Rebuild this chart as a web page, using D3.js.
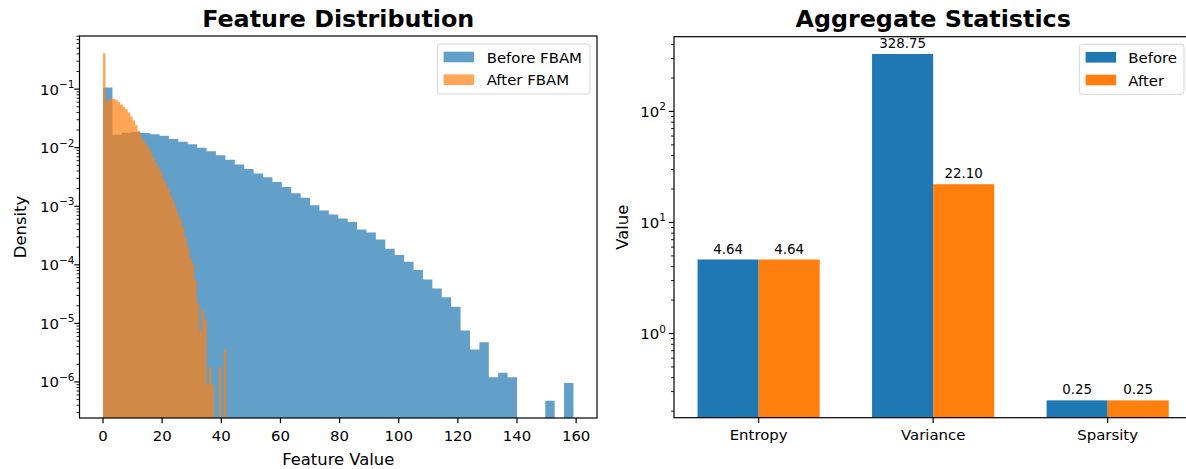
<!DOCTYPE html>
<html>
<head>
<meta charset="utf-8">
<script src="https://cdn.jsdelivr.net/npm/d3@7"></script>
<style>
  body { margin: 0; background: #fff; }
  text { font-family: "DejaVu Sans", sans-serif; fill: #000; }
</style>
</head>
<body>
<svg id="chart" width="1186" height="469"></svg>
<script>
// ---- histogram data (density per bin, 50 bins each) ----
var beforeRange = [0, 159.1];
var afterRange = [0, 41.7];
var beforeDensity = [
  0.107, 0.0166, 0.018, 0.0186, 0.0178, 0.017, 0.016, 0.0141, 0.0126, 0.0115,
  0.0100, 0.0087, 0.0074, 0.0062, 0.00515, 0.00433, 0.00361, 0.00313, 0.0026, 0.00213,
  0.00166, 0.0014, 0.00104, 0.00085, 0.00072, 0.00062, 0.00054, 0.0004, 0.000355, 0.00027,
  0.000188, 0.000147, 0.000113, 8.2e-5, 5.6e-5, 3.94e-5, 2.8e-5, 1.92e-5, 7.55e-6, 3.57e-6,
  4.77e-6, 1.2e-6, 1.43e-6, 1.2e-6, 0, 0, 0, 4.8e-7, 0, 9.6e-7
];
var afterDensity = [
  0.408, 0.063, 0.065, 0.069, 0.068, 0.065, 0.060, 0.0547, 0.050, 0.0455,
  0.040, 0.034, 0.029, 0.0242, 0.0195, 0.0157, 0.0134, 0.0115, 0.0103, 0.0085,
  0.0067, 0.0056, 0.0047, 0.00385, 0.00297, 0.0025, 0.00205, 0.00158, 0.00126, 0.00097,
  0.00075, 0.00058, 0.000435, 0.00029, 0.0002, 0.000132, 0.000104, 5.6e-5, 2.25e-5, 7.3e-6,
  1.73e-5, 1.16e-5, 9e-7, 1.8e-6, 9e-7, 0, 0, 1.8e-6, 0, 3.6e-6
];
var histTicks = [0, 20, 40, 60, 80, 100, 120, 140, 160];
var histNames = ["Before FBAM", "After FBAM"];

// ---- aggregate statistics ----
var categories = ["Entropy", "Variance", "Sparsity"];
var beforeStats = [4.64, 328.75, 0.25];
var afterStats = [4.64, 22.10, 0.25];
var statNames = ["Before", "After"];

var svg = d3.select("#chart");
var fmt = d3.format(".2f");

function logLabel(sel, e) {
  sel.append("tspan").text("10");
  sel.append("tspan").attr("dy", -6.5).attr("font-size", 10.5)
    .text(e < 0 ? "\u2212" + (-e) : String(e));
}

function logMargin(lo, hi) {
  var a = Math.log10(lo), b = Math.log10(hi), m = (b - a) * 0.05;
  return [Math.pow(10, a - m), Math.pow(10, b + m)];
}

function logAxis(g, y, x0, labelEnd) {
  var d = y.domain();
  var k0 = Math.floor(Math.log10(d[0])), k1 = Math.ceil(Math.log10(d[1]));
  for (var k = k0; k <= k1; k++) {
    for (var m = 1; m <= 9; m++) {
      var v = m * Math.pow(10, k);
      if (v < d[0] || v > d[1]) continue;
      var len = m === 1 ? 5.2 : 3;
      g.append("line").attr("x1", x0 - len).attr("x2", x0)
        .attr("y1", y(v)).attr("y2", y(v))
        .attr("stroke", "#000").attr("stroke-width", m === 1 ? 1.2 : 0.9);
      if (m === 1) {
        g.append("text").attr("x", labelEnd).attr("y", y(v) + 5.5)
          .attr("text-anchor", "end").attr("font-size", 14.9)
          .call(logLabel, k);
      }
    }
  }
}

function frame(g, l, r, t, b) {
  g.append("rect").attr("x", l).attr("y", t).attr("width", r - l).attr("height", b - t)
    .attr("fill", "none").attr("stroke", "#000").attr("stroke-width", 1.2);
}

function legend(g, x, y, w, names, colors, textX) {
  g.append("rect").attr("x", x).attr("y", y).attr("width", w).attr("height", 50)
    .attr("rx", 3).attr("fill", "#fff").attr("fill-opacity", 0.8)
    .attr("stroke", "#d5d5d5").attr("stroke-width", 1);
  names.forEach(function (n, i) {
    g.append("rect").attr("x", x + 6.3).attr("y", y + 7.7 + i * 22.7)
      .attr("width", 30.5).attr("height", 10.6).attr("fill", colors[i]);
    g.append("text").attr("x", textX).attr("y", y + 18.5 + i * 22.7)
      .attr("font-size", 14.9).text(n);
  });
}

// ================= left: Feature Distribution =================
(function () {
  var L = 79.5, R = 597, T = 36, B = 418;
  var xmax = Math.max(beforeRange[1], afterRange[1]);
  var x = d3.scaleLinear().domain([-0.05 * xmax, 1.05 * xmax]).range([L, R]);
  var all = beforeDensity.concat(afterDensity).filter(function (v) { return v > 0; });
  var y = d3.scaleLog().domain(logMargin(d3.min(all), d3.max(all))).range([B, T]);
  var g = svg.append("g");

  function histPath(values, range) {
    var w = (range[1] - range[0]) / values.length;
    var p = d3.path();
    p.moveTo(x(range[0]), B);
    values.forEach(function (v, i) {
      var yy = v > 0 ? y(v) : B;
      p.lineTo(x(range[0] + i * w), yy);
      p.lineTo(x(range[0] + (i + 1) * w), yy);
    });
    p.lineTo(x(range[1]), B);
    p.closePath();
    return p.toString();
  }

  g.append("path").attr("d", histPath(beforeDensity, beforeRange))
    .attr("fill", "#1f77b4").attr("fill-opacity", 0.7);
  g.append("path").attr("d", histPath(afterDensity, afterRange))
    .attr("fill", "#ff7f0e").attr("fill-opacity", 0.7);

  frame(g, L, R, T, B);

  histTicks.forEach(function (t) {
    g.append("line").attr("x1", x(t)).attr("x2", x(t)).attr("y1", B).attr("y2", B + 5.2)
      .attr("stroke", "#000").attr("stroke-width", 1.2);
    g.append("text").attr("x", x(t)).attr("y", B + 22.5).attr("text-anchor", "middle")
      .attr("font-size", 14.9).text(t);
  });
  logAxis(g, y, L, 74.5);

  g.append("text").attr("x", (L + R) / 2).attr("y", 465).attr("text-anchor", "middle")
    .attr("font-size", 16.4).text("Feature Value");
  g.append("text").attr("transform", "translate(26," + ((T + B) / 2) + ") rotate(-90)")
    .attr("text-anchor", "middle").attr("font-size", 16.4).text("Density");
  g.append("text").attr("x", (L + R) / 2).attr("y", 27).attr("text-anchor", "middle")
    .attr("font-size", 23.8).attr("font-weight", "bold").text("Feature Distribution");

  legend(g, 437.3, 44, 152.7, histNames,
    [d3.color("#1f77b4").copy({opacity: 0.7}), d3.color("#ff7f0e").copy({opacity: 0.7})], 486.7);
})();

// ================= right: Aggregate Statistics =================
(function () {
  var L = 674, R = 1192.3, T = 36.7, B = 417.7;
  var bw = 0.35;
  var n = categories.length;
  var span = (n - 1) + 2 * bw;
  var x = d3.scaleLinear().domain([-bw - 0.05 * span, n - 1 + bw + 0.05 * span]).range([L, R]);
  var vals = beforeStats.concat(afterStats);
  var y = d3.scaleLog().domain(logMargin(d3.min(vals), d3.max(vals))).range([B, T]);
  var g = svg.append("g");
  var colors = ["#1f77b4", "#ff7f0e"];

  [beforeStats, afterStats].forEach(function (series, s) {
    var off = s === 0 ? -bw : 0;
    g.selectAll(null).data(series).enter().append("rect")
      .attr("x", function (d, i) { return x(i + off); })
      .attr("width", x(bw) - x(0))
      .attr("y", function (d) { return y(d); })
      .attr("height", function (d) { return B - y(d); })
      .attr("fill", colors[s]);
    g.selectAll(null).data(series).enter().append("text")
      .attr("x", function (d, i) { return x(i + off + bw / 2); })
      .attr("y", function (d) { return y(d) - 6; })
      .attr("text-anchor", "middle").attr("font-size", 13.4)
      .text(function (d) { return fmt(d); });
  });

  frame(g, L, R, T, B);

  categories.forEach(function (c, i) {
    g.append("line").attr("x1", x(i)).attr("x2", x(i)).attr("y1", B).attr("y2", B + 5.2)
      .attr("stroke", "#000").attr("stroke-width", 1.2);
    g.append("text").attr("x", x(i)).attr("y", B + 22.5).attr("text-anchor", "middle")
      .attr("font-size", 14.9).text(c);
  });
  logAxis(g, y, L, 666);

  g.append("text").attr("transform", "translate(628," + ((T + B) / 2) + ") rotate(-90)")
    .attr("text-anchor", "middle").attr("font-size", 16.4).text("Value");
  g.append("text").attr("x", (L + R) / 2).attr("y", 27).attr("text-anchor", "middle")
    .attr("font-size", 23.8).attr("font-weight", "bold").text("Aggregate Statistics");

  legend(g, 1079.3, 44.3, 104.7, statNames, colors, 1128.3);
})();
</script>
</body>
</html>
